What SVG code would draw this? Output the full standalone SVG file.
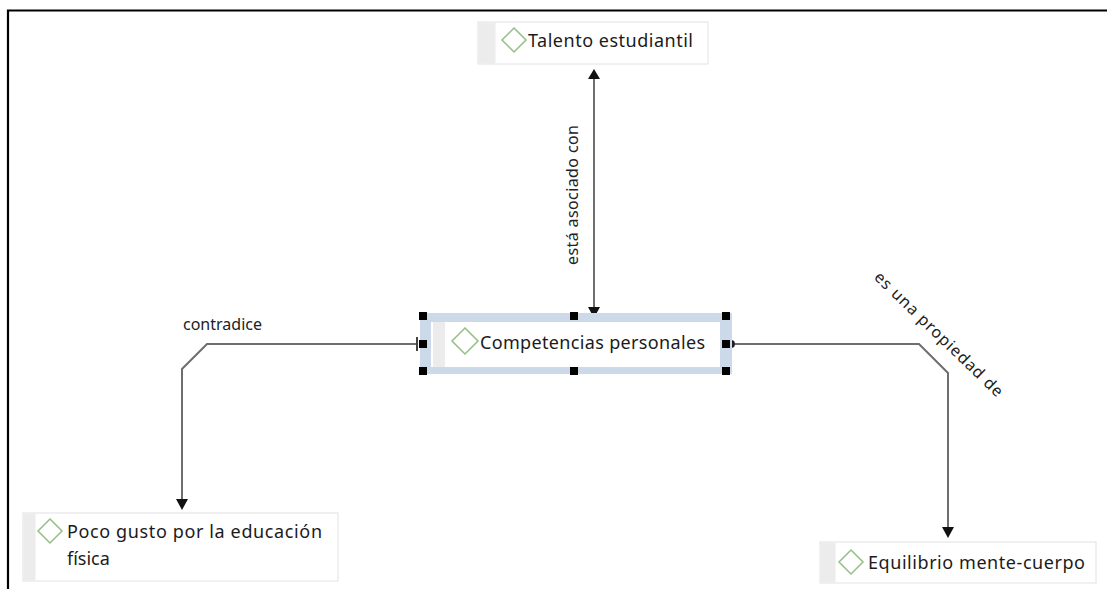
<svg xmlns="http://www.w3.org/2000/svg" width="1107" height="589" viewBox="0 0 1107 589">
<style>
.box{fill:#ffffff;stroke:#e2e2e2;stroke-width:1}
.strip{fill:#ececec}
.dia{fill:none;stroke:#93bf86;stroke-width:1.5}
.nt{font-family:"Noto Sans","Open Sans",sans-serif;font-size:18px;fill:#1b1b1b}
.lbl{font-family:"Noto Sans","Open Sans",sans-serif;font-size:16px;fill:#222}
.con{fill:none;stroke:#6e6e6e;stroke-width:2}
.ah{fill:#111}
.hd{fill:#000}
</style>
<rect x="0" y="0" width="1107" height="589" fill="#ffffff"/>
<path d="M8,589 V10.5 H1107" fill="none" stroke="#000" stroke-width="2.2"/>

<g id="connectors">
  <line class="con" x1="594" y1="76" x2="594" y2="310"/>
  <polygon class="ah" points="594,69 588,79 600,79"/>
  <polygon class="ah" points="594,318 588,307 600,307"/>
  <text class="lbl" transform="translate(578,195) rotate(-90)" text-anchor="middle" textLength="140">está asociado con</text>

  <path class="con" d="M417,344 H207 L182,369 V502"/>
  <line x1="417" y1="337" x2="417" y2="351" stroke="#444" stroke-width="2"/>
  <polygon class="ah" points="182,510 176,499 188,499"/>
  <text class="lbl" x="183" y="330" textLength="79">contradice</text>

  <path class="con" d="M735,344 H919 L948,373 V530"/>
  <path d="M731,340 A4,4 0 0 1 731,348 Z" fill="#222"/>
  <polygon class="ah" points="948,538 942,527 954,527"/>
  <text class="lbl" transform="translate(935,338) rotate(44)" text-anchor="middle" textLength="172">es una propiedad de</text>
</g>

<g id="node-talento">
  <rect class="box" x="478" y="22" width="230" height="42"/>
  <rect class="strip" x="478.5" y="22.5" width="17" height="41"/>
  <polygon class="dia" points="514,28 526,40 514,52 502,40"/>
  <text class="nt" x="528" y="47" textLength="165">Talento estudiantil</text>
</g>

<g id="node-competencias">
  <rect x="420" y="313" width="312" height="61" fill="#cbd9e8"/>
  <rect x="431" y="322" width="289" height="45" fill="#ffffff"/>
  <rect class="strip" x="433" y="322" width="12" height="45"/>
  <polygon class="dia" points="465,328 478,341 465,354 452,341"/>
  <text class="nt" x="480" y="349" font-size="18.5" textLength="225">Competencias personales</text>
  <rect class="hd" x="419" y="312" width="8" height="8"/>
  <rect class="hd" x="570" y="312" width="8" height="8"/>
  <rect class="hd" x="722" y="312" width="8" height="8"/>
  <rect class="hd" x="419" y="340" width="8" height="8"/>
  <rect class="hd" x="722" y="340" width="8" height="8"/>
  <rect class="hd" x="419" y="367" width="8" height="8"/>
  <rect class="hd" x="570" y="367" width="8" height="8"/>
  <rect class="hd" x="722" y="367" width="8" height="8"/>
</g>

<g id="node-poco">
  <rect class="box" x="23" y="513" width="315" height="68"/>
  <rect class="strip" x="23.5" y="513.5" width="12" height="67"/>
  <polygon class="dia" points="50,519 62,531 50,543 38,531"/>
  <text class="nt" x="67" y="538" textLength="255">Poco gusto por la educación</text>
  <text class="nt" x="67" y="565">física</text>
</g>

<g id="node-equilibrio">
  <rect class="box" x="820" y="542" width="276" height="41"/>
  <rect class="strip" x="820.5" y="542.5" width="15" height="40"/>
  <polygon class="dia" points="851,550 863,562 851,574 839,562"/>
  <text class="nt" x="868" y="569" textLength="217">Equilibrio mente-cuerpo</text>
</g>
</svg>
